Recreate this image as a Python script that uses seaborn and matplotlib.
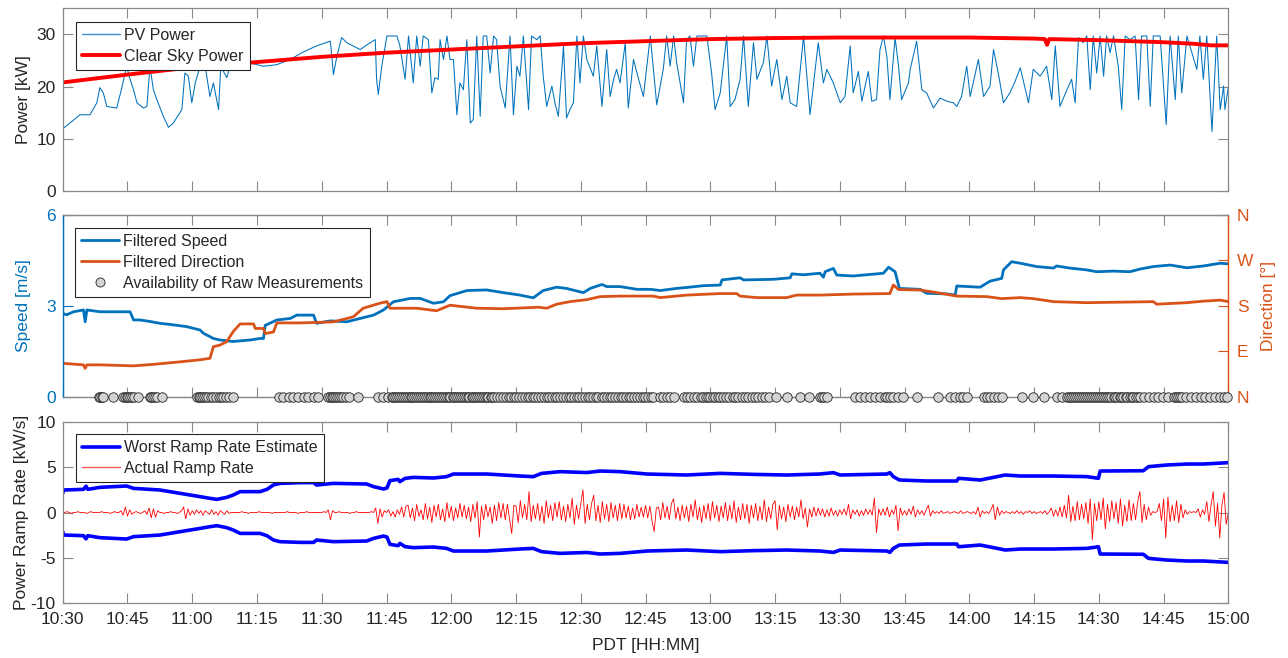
import numpy as np
import matplotlib
matplotlib.use("Agg")
import matplotlib.pyplot as plt
import seaborn as sns
from matplotlib.ticker import FuncFormatter
from matplotlib.lines import Line2D

# ---------------- data (x = minutes after 10:30 PDT) ----------------
pv_power = [  # (minute, kW)
    (0.0, 11.9), (4.0, 14.6), (6.3, 14.6), (7.9, 16.9), (8.6, 19.8), (9.4, 18.8), (10.2, 16.2),
    (12.5, 15.9), (13.7, 19.8), (14.8, 23.9), (15.6, 21.4), (16.4, 19.4), (17.2, 16.9), (18.7, 15.9),
    (19.5, 16.2), (20.2, 23.9), (21.0, 19.4), (21.8, 17.5), (23.3, 14.3), (24.5, 12.2), (25.6, 13.0),
    (27.6, 15.6), (28.3, 22.6), (29.1, 22.0), (29.9, 16.9), (30.7, 20.7), (31.8, 23.9), (33.0, 23.9),
    (34.1, 18.1), (34.9, 20.7), (36.1, 15.6), (36.6, 23.9), (38.0, 21.7), (39.2, 25.2), (41.1, 24.9),
    (43.0, 24.6), (46.5, 23.9), (49.6, 24.2), (52.7, 25.2), (55.4, 26.5), (58.8, 27.8), (62.0, 28.7),
    (62.7, 22.3), (63.5, 25.8), (64.6, 29.4), (65.8, 28.4), (68.9, 27.1), (71.2, 28.4), (72.4, 29.0),
    (72.7, 21.4), (73.1, 18.5), (73.9, 23.9), (75.1, 29.7), (77.4, 29.7), (78.1, 27.8), (79.3, 21.4),
    (80.1, 29.7), (81.2, 20.7), (82.0, 29.7), (82.8, 23.9), (83.5, 29.7), (84.7, 29.0), (85.5, 18.8),
    (86.2, 21.7), (87.0, 21.4), (87.4, 29.0), (88.2, 25.2), (89.0, 29.7), (89.7, 25.2), (90.5, 25.2),
    (91.3, 14.6), (92.0, 20.7), (92.8, 19.4), (93.6, 29.0), (94.4, 13.0), (95.1, 13.7), (95.9, 29.7),
    (96.7, 14.3), (97.4, 29.7), (98.2, 29.7), (99.0, 22.6), (99.8, 29.7), (100.5, 29.0), (101.3, 20.1),
    (102.5, 15.9), (103.6, 29.7), (104.4, 14.6), (105.2, 23.9), (105.9, 22.0), (106.7, 29.7),
    (107.9, 15.6), (108.6, 29.7), (109.8, 29.0), (110.6, 29.7), (111.3, 22.0), (112.1, 16.2),
    (113.3, 20.1), (114.0, 16.9), (114.8, 14.3), (116.0, 27.8), (116.7, 14.0), (117.5, 15.6),
    (118.3, 16.9), (119.1, 29.7), (119.8, 20.7), (120.6, 29.7), (121.4, 25.2), (122.9, 22.0),
    (123.7, 27.8), (124.9, 16.2), (126.0, 27.1), (126.8, 18.1), (127.6, 21.4), (128.3, 23.3),
    (129.1, 20.7), (130.3, 28.4), (131.0, 15.9), (132.2, 25.2), (133.4, 21.4), (134.5, 18.1),
    (136.1, 29.7), (137.6, 16.5), (139.1, 23.3), (139.9, 29.7), (140.7, 23.9), (141.5, 29.7),
    (142.2, 24.6), (143.8, 16.9), (144.5, 29.0), (145.3, 29.7), (146.1, 23.9), (146.9, 29.7),
    (148.4, 29.7), (149.2, 29.7), (150.3, 22.6), (151.1, 15.6), (152.3, 18.8), (153.8, 29.7),
    (154.6, 16.2), (155.7, 17.5), (156.9, 21.4), (157.7, 29.7), (158.8, 16.2), (160.0, 28.4),
    (160.8, 21.4), (162.3, 24.6), (163.1, 29.7), (164.2, 20.1), (165.4, 25.2), (166.6, 17.5),
    (167.7, 22.0), (168.5, 16.9), (170.0, 16.2), (171.6, 29.7), (173.1, 14.6), (175.0, 28.4),
    (176.2, 20.7), (177.0, 23.3), (178.5, 20.7), (180.1, 16.9), (181.2, 18.1), (182.4, 27.8),
    (183.1, 18.8), (184.3, 22.9), (185.1, 17.2), (186.6, 22.9), (187.4, 17.2), (188.5, 17.5),
    (189.3, 27.1), (190.1, 29.7), (190.9, 25.8), (191.6, 17.5), (192.8, 29.4), (193.6, 23.9),
    (194.3, 17.5), (195.9, 20.7), (196.3, 23.3), (197.8, 28.7), (199.0, 19.4), (200.1, 18.8),
    (201.7, 15.9), (203.2, 17.8), (204.8, 17.2), (206.3, 16.9), (207.1, 16.2), (208.2, 18.1),
    (209.4, 23.9), (210.2, 18.1), (212.1, 25.2), (213.3, 18.1), (214.8, 20.1), (215.6, 27.1),
    (216.7, 22.6), (217.9, 16.9), (219.4, 18.8), (220.6, 21.0), (221.8, 23.6), (223.7, 16.9),
    (224.8, 23.3), (226.4, 22.0), (227.9, 23.9), (229.1, 17.5), (229.9, 27.8), (231.0, 16.2),
    (232.6, 19.4), (233.7, 21.4), (234.5, 16.9), (235.3, 29.4), (236.4, 28.4), (237.2, 29.7),
    (238.0, 19.4), (238.7, 29.7), (239.5, 22.6), (240.3, 29.7), (241.1, 22.0), (241.8, 29.7),
    (242.6, 26.5), (243.4, 29.7), (244.5, 23.9), (245.3, 15.6), (246.1, 29.7), (247.2, 29.0),
    (248.4, 29.7), (249.2, 17.5), (249.9, 29.7), (251.1, 29.7), (251.9, 16.2), (252.6, 29.7),
    (254.2, 29.7), (255.0, 20.1), (255.6, 12.7), (256.5, 29.7), (257.7, 17.5), (258.4, 29.7),
    (259.2, 18.8), (260.4, 29.7), (262.7, 23.3), (263.4, 29.7), (264.2, 21.4), (265.0, 29.7),
    (266.2, 11.4), (267.3, 29.7), (268.1, 15.6), (268.9, 20.1), (269.2, 15.6), (270.0, 20.0),
]

clear_sky = [
    (0, 20.8), (15, 22.3), (30, 23.7), (45, 24.7), (60, 25.7), (75, 26.5), (90, 27.1), (105, 27.7),
    (120, 28.3), (135, 28.7), (150, 29.1), (165, 29.3), (180, 29.4), (195, 29.4), (210, 29.4),
    (225, 29.2), (227.5, 29.1), (228, 28.0), (228.5, 29.1), (240, 28.9), (255, 28.5), (262, 28.2),
    (266, 27.9), (270, 27.9),
]

wind_speed = [  # (minute, m/s)
    (0, 2.75), (0.9, 2.70), (2.5, 2.80), (4.8, 2.86), (5.2, 2.47), (5.6, 2.86), (8.6, 2.80),
    (15.6, 2.80), (16.4, 2.53), (17.9, 2.53), (20.2, 2.48), (22.5, 2.42), (25.6, 2.37), (28.7, 2.31),
    (31.8, 2.20), (32.6, 2.09), (34.9, 1.92), (36.4, 1.87), (39.5, 1.82), (43.4, 1.87), (45.7, 1.92),
    (46.5, 1.92), (46.9, 2.35), (49.6, 2.53), (52.7, 2.58), (54.2, 2.69), (58.1, 2.69), (58.8, 2.42),
    (62.0, 2.50), (65.8, 2.47), (68.9, 2.58), (72.0, 2.69), (74.3, 2.86), (76.6, 3.13), (80.5, 3.24),
    (82.8, 3.24), (85.9, 3.08), (88.2, 3.13), (89.7, 3.33), (93.6, 3.50), (98.2, 3.52), (102.1, 3.43),
    (105.9, 3.35), (109.0, 3.26), (111.3, 3.50), (114.4, 3.61), (116.7, 3.57), (120.6, 3.43),
    (122.2, 3.57), (124.9, 3.70), (126.0, 3.63), (129.1, 3.63), (133.0, 3.54), (136.1, 3.54),
    (138.4, 3.50), (142.2, 3.57), (144.5, 3.60), (148.4, 3.66), (152.3, 3.68), (152.7, 3.85),
    (156.9, 3.92), (157.7, 3.85), (164.6, 3.87), (168.5, 3.92), (168.9, 4.05), (171.6, 4.02),
    (175.4, 4.07), (176.2, 3.94), (176.6, 4.12), (178.5, 4.23), (179.3, 4.01), (183.1, 3.98),
    (190.1, 4.07), (191.3, 4.27), (192.8, 4.12), (193.8, 3.57), (198.6, 3.54), (200.1, 3.41),
    (204.8, 3.39), (206.7, 3.35), (207.1, 3.65), (212.5, 3.61), (214.8, 3.81), (217.5, 3.90),
    (217.9, 4.18), (219.8, 4.45), (221.8, 4.40), (225.6, 4.29), (229.5, 4.24), (230.2, 4.31),
    (233.3, 4.24), (237.2, 4.18), (239.5, 4.12), (243.4, 4.14), (247.2, 4.12), (249.6, 4.21),
    (252.6, 4.29), (256.5, 4.34), (260.4, 4.25), (264.2, 4.31), (268.1, 4.40), (270, 4.38),
]

wind_direction = [  # (minute, degrees)
    (0, 66), (4.8, 63), (5.2, 56), (5.6, 63), (8.6, 63), (16.4, 61), (21.0, 64), (27.2, 69),
    (31.8, 73), (34.1, 76), (34.9, 99), (36.4, 102), (38.0, 109), (39.5, 129), (41.1, 144),
    (44.2, 144), (44.6, 135), (46.5, 135), (46.9, 125), (48.8, 128), (49.6, 146), (55.0, 146),
    (62.7, 148), (67.3, 158), (69.6, 175), (73.5, 185), (75.1, 188), (75.8, 175), (82.0, 175),
    (86.6, 170), (89.7, 181), (92.8, 178), (95.9, 175), (102.1, 174), (110.2, 177), (112.1, 175),
    (114.4, 183), (117.5, 188), (121.4, 192), (124.5, 198), (129.1, 199), (136.8, 199), (138.4, 196),
    (144.5, 201), (152.3, 204), (156.1, 204), (156.9, 199), (160.8, 196), (167.7, 196), (170.0, 201),
    (175.4, 201), (183.1, 203), (191.6, 204), (192.4, 221), (193.6, 212), (198.6, 211), (202.4, 206),
    (207.1, 199), (214.0, 198), (217.5, 194), (221.8, 196), (224.8, 194), (229.5, 188), (237.2, 186),
    (252.6, 188), (253.4, 183), (260.4, 186), (264.2, 189), (268.1, 191), (270, 188),
]

raw_available = [
    8.3, 8.6, 9.0, 9.4, 11.7, 14.0, 14.5, 14.8, 15.2, 15.6, 16.0, 16.4, 17.5, 20.2, 20.5, 21.0,
    21.4, 21.8, 22.9, 31.1, 31.5, 31.8, 32.2, 32.7, 33.2, 33.7, 34.3, 34.9, 35.5, 36.1, 36.6, 37.2,
    37.8, 38.4, 39.5, 50.0, 51.1, 52.3, 53.4, 54.6, 55.8, 56.9, 58.1, 59.2, 61.5, 61.9, 62.3, 62.7,
    63.1, 63.5, 63.9, 64.4, 65.0, 65.6, 66.2, 68.5, 73.1, 74.3, 75.4, 76.2, 76.6, 77.0, 77.5, 77.9,
    78.3, 78.8, 79.2, 79.7, 80.1, 80.6, 81.0, 81.4, 81.9, 82.3, 82.8, 83.2, 83.6, 84.1, 84.5, 85.0,
    85.4, 85.8, 86.3, 86.7, 87.2, 87.6, 88.0, 88.5, 88.9, 89.4, 89.8, 90.3, 90.7, 91.1, 91.6, 92.0,
    92.5, 92.9, 93.3, 93.8, 94.2, 94.7, 95.1, 95.5, 96.0, 96.4, 96.9, 97.3, 97.7, 98.2, 98.6, 99.1,
    99.5, 100.0, 100.6, 101.3, 101.9, 102.6, 103.3, 103.8, 104.5, 105.1, 105.8, 106.4, 107.0,
    107.7, 108.2, 108.9, 109.5, 110.2, 110.8, 111.5, 112.1, 112.7, 113.4, 114.0, 114.6, 115.3,
    115.9, 116.5, 117.2, 117.8, 118.4, 119.1, 119.7, 120.3, 121.0, 121.6, 122.2, 122.9, 123.5,
    124.1, 124.8, 125.4, 126.0, 126.7, 127.3, 127.9, 128.6, 129.2, 129.8, 130.5, 131.1, 131.7,
    132.4, 133.0, 133.6, 134.3, 134.9, 135.5, 136.2, 136.8, 138.4, 139.1, 139.9, 140.7, 141.5,
    143.8, 144.6, 145.4, 146.2, 147.0, 147.8, 148.4, 148.9, 149.5, 150.0, 150.6, 151.2, 151.8,
    152.3, 152.9, 153.6, 154.4, 155.2, 155.8, 156.5, 157.3, 158.1, 158.8, 159.6, 160.4, 161.1,
    161.9, 162.7, 163.5, 165.3, 167.7, 170.7, 172.8, 175.4, 175.9, 176.4, 177.0, 183.5, 184.6,
    185.8, 186.9, 188.1, 189.2, 190.4, 191.0, 191.6, 192.3, 193.5, 194.7, 197.8, 202.8, 205.5,
    206.6, 207.8, 208.6, 209.4, 213.3, 214.0, 214.8, 215.6, 216.6, 217.5, 222.1, 224.8, 227.2,
    230.2, 231.4, 232.6, 233.1, 233.6, 234.0, 234.5, 235.0, 235.4, 235.9, 236.4, 236.8, 237.3,
    237.8, 238.2, 238.7, 239.2, 239.6, 240.1, 240.6, 241.0, 241.5, 242.0, 242.4, 242.9, 243.4,
    243.8, 244.3, 244.8, 245.2, 245.7, 246.2, 246.6, 247.1, 247.6, 248.0, 248.5, 249.0, 249.5,
    250.5, 251.6, 252.7, 253.8, 254.9, 256.0, 257.3, 257.8, 258.3, 258.8, 259.3, 260.3, 261.4,
    262.5, 263.6, 264.7, 265.8, 266.9, 268.0, 269.1, 269.7,
]

worst_ramp = [  # (minute, kW/s) magnitude of the +/- estimate
    (0, 2.1), (0.2, 2.48), (4.8, 2.55), (5.4, 2.9), (5.8, 2.55), (8.6, 2.77), (14.8, 2.92),
    (16.4, 2.66), (22.5, 2.48), (27.2, 2.11), (31.8, 1.75), (34.1, 1.56), (35.7, 1.45), (38.0, 1.67),
    (39.5, 1.93), (41.1, 2.30), (45.7, 2.30), (47.3, 2.55), (48.8, 3.03), (50.3, 3.21), (55.0, 3.29),
    (58.1, 3.29), (58.8, 3.03), (62.7, 3.21), (70.4, 3.14), (72.0, 2.85), (74.3, 2.59), (75.1, 2.70),
    (75.8, 3.51), (77.7, 3.65), (78.1, 3.40), (79.3, 3.76), (81.2, 3.87), (85.9, 3.80), (88.9, 3.95),
    (90.5, 4.24), (98.2, 4.24), (105.9, 4.02), (109.0, 3.95), (110.9, 4.31), (115.2, 4.50),
    (121.4, 4.40), (124.5, 4.57), (129.1, 4.50), (135.3, 4.24), (144.5, 4.13), (152.3, 4.31),
    (160.0, 4.20), (167.7, 4.13), (175.4, 4.24), (178.5, 4.39), (180.1, 4.13), (190.9, 4.24),
    (191.6, 4.39), (192.4, 3.95), (193.8, 3.58), (200.1, 3.47), (207.1, 3.47), (207.5, 3.77),
    (212.5, 3.58), (215.6, 3.87), (218.3, 4.13), (221.8, 4.02), (229.5, 4.02), (237.2, 3.95),
    (239.9, 3.77), (240.3, 4.57), (250.3, 4.60), (251.5, 5.05), (255.7, 5.23), (260.4, 5.34),
    (264.2, 5.34), (270, 5.49),
]

ramp_step_min = 0.5   # actual ramp rate, one value every 0.5 min from 10:30
actual_ramp = [
    0, 0, .1, 0, -.1, 0, 0, .1, 0, 0, 0, -.1, 0, .1, 0, 0, 0, 0, .1, 0,
    0, 0, -.1, 0, .1, 0, 0, .2, -.3, .6, -.4, .3, -.2, 0, .1, 0, -.1, 0, .2, -.2,
    .5, -.6, .4, -.5, .2, 0, 0, -.1, 0, 0, .1, 0, 0, -.1, 0, .2, .6, -.7, .4, -.3,
    .2, -.2, .3, -.1, .2, -.3, .2, 0, -.2, .3, -.2, .1, -.3, .2, 0, -.2, .2, -.1, 0, 0,
    0, 0, 0, .1, 0, 0, -.1, 0, 0, 0, 0, .1, 0, 0, 0, 0, 0, -.1, 0, 0,
    0, 0, 0, 0, .1, 0, 0, 0, 0, -.1, 0, 0, 0, .1, 0, 0, 0, 0, 0, 0,
    0, .1, 0, .3, -.8, .2, 0, 0, .1, 0, 0, 0, 0, -.1, 0, 0, .1, 0, 0, 0,
    0, 0, 0, .1, 0, .5, -1.2, .4, -.5, .2, 0, .3, -.4, .1, -.5, .3, -.2, .6, -.5, .7,
    .8, -.6, .5, -.9, .9, -.4, .3, -.8, 1.0, -.7, .6, -1.1, .8, -.5, .9, -.8, .4, -1.0, 1.1, -.6,
    .7, -.9, .5, -.6, 1.0, -.5, .8, -.7, .6, -1.0, .9, -.6, 1.2, -2.7, .7, -.8, .9, -.5, .6, -1.2,
    .8, -.9, 1.1, -.6, 1.0, -.8, .9, -.7, -2.3, .8, .7, -1.1, 1.3, -.6, .9, -.8, 2.3, -1.0, .8, -.7,
    1.0, -.9, .7, -1.2, 1.3, -.6, .8, -.9, 1.1, -.5, 1.2, -.8, .7, -1.0, .9, -.6, 1.6, -1.3, .8, -.7,
    1.0, 2.5, -1.2, .9, -.8, 1.0, 1.9, -.9, .8, -1.1, 1.2, -.7, .9, -1.0, 1.1, -.6, .8, -.9, 1.0, -.7,
    .9, -.6, .7, -.8, .5, -.7, .9, -.5, .6, -.5, .8, -.6, .7, -.9, -2.1, .5, .6, -.8, 1.1, -.6,
    .7, -.8, 1.0, 1.5, -.7, .6, -.9, .8, -.6, .7, -1.0, .9, -.5, 1.4, -.8, .6, -1.1, .8, -.7, 1.0,
    -.9, 1.2, -.6, .8, -1.0, .7, -.6, 1.1, -.9, .8, -.7, 1.3, -1.1, .6, -.8, 1.0, -.7, .9, -1.2, .8,
    -.6, 1.0, -.9, .7, -.8, 1.4, -1.0, .6, -.7, .9, 1.3, -1.9, .8, -.7, .6, -1.0, .9, -.5, .7, -.8,
    .6, -.5, 1.4, -.7, .5, -1.6, .4, -.5, .6, -.4, .5, -.3, .4, -.5, .3, -.4, .5, -.3, .2, -.4,
    .3, -.2, .4, -.3, .9, -.7, .3, -.2, .3, -.4, .2, -.3, .4, -.2, .3, -.3, 1.6, -2.2, .4, -.3,
    .4, -.3, .6, -.5, .3, -.2, .8, -2.0, .5, -.3, .2, -.3, .4, -.2, .7, -.5, .3, -.2, .2, -.3,
    .3, .8, -.4, .2, -.1, .1, -.1, .2, -.1, 0, .1, -.1, 0, .1, 0, -.1, .2, -.1, 0, .1,
    0, -.1, .1, -.2, .6, -.5, .2, -.1, .1, -.1, .3, .9, -.8, .6, -.3, .2, -.1, .1, 0, -.1,
    .1, -.1, .2, -.1, .1, -.2, .1, 0, .2, -.1, .1, -.1, 0, .1, -.1, .2, -.2, .1, .5, -.4,
    .3, -.4, .6, -.5, .8, -.6, 1.9, -1.0, .7, -.9, 1.2, -.8, .9, -.7, 1.1, -1.2, 1.5, -3.0, 1.0, -.9,
    1.2, -.8, 1.6, -1.8, .9, -1.0, 1.3, -.7, 1.1, -1.2, 1.5, -1.5, .8, -1.0, 1.4, -.9, 1.0, -.8, 1.2, 2.3,
    -1.1, .9, -.8, .6, -.3, .1, 0, .1, 1.0, -.9, 1.5, -2.8, 1.7, -1.0, .8, -.9, 1.3, -1.1, .9, -.6,
    .3, -.2, .1, 0, .1, 0, .4, -.5, .3, -.2, 1.2, -1.0, .9, 2.3, -1.5, 1.0, -2.8, .8, 2.2, -1.3,
    0,
]

x_ticks = list(range(0, 271, 15))
dir_ticks = [0, 90, 180, 270, 360]
dir_labels = ["N", "E", "S", "W", "N"]

# ---------------- styling ----------------
sns.set_theme(style="ticks")
plt.rcParams["font.family"] = ["Liberation Sans", "DejaVu Sans"]
plt.rcParams.update({
    "axes.unicode_minus": False,
    "xtick.direction": "in", "ytick.direction": "in",
    "xtick.major.size": 7, "ytick.major.size": 7,
    "xtick.major.width": 0.8, "ytick.major.width": 0.8,
    "axes.edgecolor": "#8a8a8a", "axes.linewidth": 0.9,
    "xtick.color": "#8a8a8a", "ytick.color": "#8a8a8a",
    "xtick.labelcolor": "#262626", "ytick.labelcolor": "#262626",
    "xtick.labelsize": 12.5, "ytick.labelsize": 12.5,
    "axes.labelsize": 12.5, "axes.labelcolor": "#262626",
    "xtick.major.pad": 6, "ytick.major.pad": 5,
})

BLUE = "#0072BD"
ORANGE = "#D95319"

def unz(pairs):
    a = np.array(pairs, dtype=float)
    return a[:, 0], a[:, 1]

fig = plt.figure(figsize=(12.88, 6.58), dpi=100)
ax1 = fig.add_axes([0.0487, 0.7097, 0.905, 0.2777])
ax2 = fig.add_axes([0.0487, 0.3971, 0.905, 0.2766])
ax3 = fig.add_axes([0.0487, 0.0831, 0.905, 0.2760])

fmt = FuncFormatter(lambda m, _: f"{10 + int(30 + m) // 60:d}:{int(30 + m) % 60:02d}")
for ax in (ax1, ax2, ax3):
    ax.set_xlim(0, 270)
    ax.set_xticks(x_ticks)
    ax.xaxis.set_major_formatter(fmt)
    ax.tick_params(axis="x", top=True, bottom=True)

leg_kw = dict(loc="upper left", fontsize=11.5, frameon=True, fancybox=False, framealpha=1,
              edgecolor="#262626", handlelength=2.4, handletextpad=0.25, labelspacing=0.36,
              borderpad=0.38, borderaxespad=0)

# ---- panel 1: power ----
t, v = unz(pv_power)
sns.lineplot(x=t, y=v, ax=ax1, color=BLUE, lw=0.75, legend=False, estimator=None, sort=False)
t, v = unz(clear_sky)
sns.lineplot(x=t, y=v, ax=ax1, color="#FF0000", lw=2.8, legend=False, estimator=None, sort=False)
ax1.set_ylim(0, 35)
ax1.set_yticks([0, 10, 20, 30])
ax1.tick_params(axis="y", left=True, right=True)
ax1.set_xticklabels([])
ax1.set_ylabel("Power [kW]")
ax1.yaxis.set_label_coords(-0.027, 0.5)
ax1.legend(handles=[Line2D([], [], color="#3d8fd0", lw=1.0), Line2D([], [], color="#FF0000", lw=2.8)],
           labels=["PV Power", "Clear Sky Power"], bbox_to_anchor=(0.0114, 0.925), **leg_kw)
ax1.get_legend().get_frame().set_linewidth(0.8)

# ---- panel 2: wind ----
ax2b = ax2.twinx()
t, v = unz(wind_speed)
sns.lineplot(x=t, y=v, ax=ax2, color=BLUE, lw=2.0, legend=False, estimator=None, sort=False)
t, v = unz(wind_direction)
sns.lineplot(x=t, y=v, ax=ax2b, color=ORANGE, lw=2.0, legend=False, estimator=None, sort=False)
sns.scatterplot(x=raw_available, y=np.zeros(len(raw_available)), ax=ax2b, s=46, color="#D4D4D4",
                edgecolor="#222222", linewidth=0.6, legend=False, clip_on=False, zorder=5)
ax2.set_ylim(0, 6)
ax2.set_yticks([0, 3, 6])
ax2.set_xticklabels([])
ax2b.set_ylim(0, 360)
ax2b.set_yticks(dir_ticks)
ax2b.set_yticklabels(dir_labels)
ax2.tick_params(axis="y", colors=BLUE, labelcolor=BLUE, right=False)
ax2b.tick_params(axis="y", colors=ORANGE, labelcolor=ORANGE, pad=6)
for a in (ax2, ax2b):
    a.spines["left"].set_color(BLUE)
    a.spines["right"].set_color(ORANGE)
ax2.set_ylabel("Speed [m/s]", color=BLUE)
ax2.yaxis.set_label_coords(-0.027, 0.5)
ax2b.set_ylabel("Direction [°]", color=ORANGE)
ax2b.yaxis.set_label_coords(1.028, 0.5)
ax2b.legend(handles=[Line2D([], [], color=BLUE, lw=2.0), Line2D([], [], color=ORANGE, lw=2.0),
                     Line2D([], [], ls="none", marker="o", markersize=6.5, markerfacecolor="#D4D4D4",
                            markeredgecolor="#222222", markeredgewidth=0.6)],
            labels=["Filtered Speed", "Filtered Direction", "Availability of Raw Measurements"],
            bbox_to_anchor=(0.0106, 0.927), **leg_kw)
ax2b.get_legend().get_frame().set_linewidth(0.8)
ax2b.get_legend().set_zorder(10)

# ---- panel 3: ramp rate ----
t, v = unz(worst_ramp)
sns.lineplot(x=t, y=v, ax=ax3, color="#0000FF", lw=2.6, legend=False, estimator=None, sort=False)
sns.lineplot(x=t, y=-v, ax=ax3, color="#0000FF", lw=2.6, legend=False, estimator=None, sort=False)
rt = np.arange(len(actual_ramp)) * ramp_step_min
sns.lineplot(x=rt, y=actual_ramp, ax=ax3, color="#FF0000", lw=0.6, legend=False, estimator=None, sort=False)
ax3.set_ylim(-10, 10)
ax3.set_yticks([-10, -5, 0, 5, 10])
ax3.tick_params(axis="y", left=True, right=True)
ax3.set_ylabel("Power Ramp Rate [kW/s]")
ax3.yaxis.set_label_coords(-0.029, 0.5)
ax3.set_xlabel("PDT [HH:MM]", labelpad=8)
ax3.legend(handles=[Line2D([], [], color="#0000FF", lw=2.6), Line2D([], [], color="#FF5a5a", lw=1.0)],
           labels=["Worst Ramp Rate Estimate", "Actual Ramp Rate"],
           bbox_to_anchor=(0.0114, 0.932), **leg_kw)
ax3.get_legend().get_frame().set_linewidth(0.8)

fig.savefig("out.png", dpi=100)
